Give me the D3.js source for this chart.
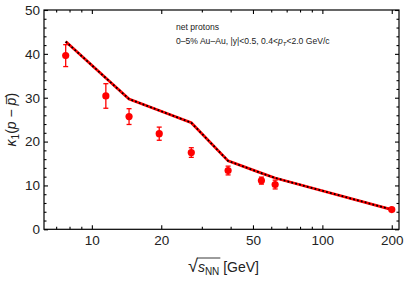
<!DOCTYPE html>
<html>
<head>
<meta charset="utf-8">
<script src="https://cdn.jsdelivr.net/npm/d3@7"></script>
<style>
  body { margin: 0; background: #fff; }
  svg { display: block; font-family: "Liberation Sans", Arial, sans-serif; }
</style>
</head>
<body>
<svg class="chart"></svg>
<script>
// data
var energies = [7.7, 11.5, 14.5, 19.6, 27, 39, 54.4, 62.4, 200];
var kappa = [39.6, 30.4, 25.7, 21.8, 17.5, 13.4, 11.1, 10.2, 4.5];
var kappaErr = [2.5, 2.8, 1.8, 1.5, 1.1, 1.0, 0.8, 1.0, 0.4];
var model = [42.8, 34.5, 29.7, 27.1, 24.3, 15.6, 12.8, 11.7, 4.5];
var xTicks = [10, 20, 50, 100, 200];
var xMinor = [7, 8, 9, 30, 40, 60, 70, 80, 90];
var yTicks = [0, 10, 20, 30, 40, 50];

(function() {
    var width = 407, height = 281;
    var margin = {left: 44, right: 8, top: 10, bottom: 52};

    var svg = d3.select('.chart')
        .attr('width', width)
        .attr('height', height);

    var x = d3.scaleLog().domain([6.2, 215]).range([margin.left, width - margin.right]);
    var y = d3.scaleLinear().domain([0, 50]).range([height - margin.bottom + 0.3, margin.top]);

    var yMinor = d3.range(0, 50.1, 2).filter(function(v) { return v % 10 !== 0; });

    var yBot = y(0), yTop = y(50), xLeft = x.range()[0], xRight = x.range()[1];

    // frame
    svg.append('rect')
        .attr('x', xLeft).attr('y', yTop)
        .attr('width', xRight - xLeft)
        .attr('height', yBot - yTop)
        .attr('fill', 'none').attr('stroke', '#000').attr('stroke-width', 1.2);

    function axis(gen, tr, vals, len, labels) {
        var g = svg.append('g').attr('transform', tr)
            .call(gen.tickValues(vals).tickSizeInner(len).tickSizeOuter(0)
                .tickFormat(labels ? d3.format('d') : ''));
        g.select('.domain').remove();
        g.selectAll('line').attr('stroke-width', 1.1);
        g.selectAll('text').attr('font-size', '13.5px').attr('fill', '#222')
            .attr('font-family', '"Liberation Sans", Arial, sans-serif');
        return g;
    }

    // inward ticks: negative size
    axis(d3.axisBottom(x), 'translate(0,' + yBot + ')', xTicks, -4, true)
        .selectAll('text').attr('dy', '0.71em').attr('y', 6);
    axis(d3.axisBottom(x), 'translate(0,' + yBot + ')', xMinor, -2.5, false);
    axis(d3.axisTop(x), 'translate(0,' + yTop + ')', xTicks, -4, false);
    axis(d3.axisTop(x), 'translate(0,' + yTop + ')', xMinor, -2.5, false);
    axis(d3.axisLeft(y), 'translate(' + xLeft + ',0)', yTicks, -4, true)
        .selectAll('text').attr('x', -4);
    axis(d3.axisLeft(y), 'translate(' + xLeft + ',0)', yMinor, -2.5, false);
    axis(d3.axisRight(y), 'translate(' + xRight + ',0)', yTicks, -4, false);
    axis(d3.axisRight(y), 'translate(' + xRight + ',0)', yMinor, -2.5, false);

    // model line: red with black dots
    var line = d3.line()
        .x(function(d, i) { return x(energies[i]); })
        .y(function(d) { return y(d); });

    svg.append('path').datum(model)
        .attr('d', line).attr('fill', 'none')
        .attr('stroke', '#f00').attr('stroke-width', 2.8);
    svg.append('path').datum(model)
        .attr('d', line).attr('fill', 'none')
        .attr('stroke', '#000').attr('stroke-width', 1.8)
        .attr('stroke-dasharray', '1.8,2.2');

    // data points with error bars
    var pts = svg.append('g').selectAll('g')
        .data(kappa)
        .enter().append('g');

    pts.append('line')
        .attr('x1', function(d, i) { return x(energies[i]); })
        .attr('x2', function(d, i) { return x(energies[i]); })
        .attr('y1', function(d, i) { return y(d - kappaErr[i]); })
        .attr('y2', function(d, i) { return y(d + kappaErr[i]); })
        .attr('stroke', '#f00').attr('stroke-width', 1.3);

    [-1, 1].forEach(function(s) {
        pts.append('line')
            .attr('x1', function(d, i) { return x(energies[i]) - 2.5; })
            .attr('x2', function(d, i) { return x(energies[i]) + 2.5; })
            .attr('y1', function(d, i) { return y(d + s * kappaErr[i]); })
            .attr('y2', function(d, i) { return y(d + s * kappaErr[i]); })
            .attr('stroke', '#f00').attr('stroke-width', 1.3);
    });

    pts.append('circle')
        .attr('cx', function(d, i) { return x(energies[i]); })
        .attr('cy', function(d) { return y(d); })
        .attr('r', 3.6)
        .attr('fill', '#f00');

    // annotation
    svg.append('text').attr('font-size', '8.6px').attr('fill', '#222')
        .attr('x', 176).attr('y', 30).text('net protons');
    var l2 = svg.append('text').attr('font-size', '8.6px').attr('fill', '#222')
        .attr('x', 176).attr('y', 44);
    l2.append('tspan').text('0\u20135% Au\u2013Au, |y|<0.5, 0.4<');
    l2.append('tspan').attr('font-style', 'italic').text('p');
    l2.append('tspan').attr('font-style', 'italic').attr('font-size', '6px').attr('dy', 2).text('T');
    l2.append('tspan').attr('dy', -2).text('<2.0 GeV/c');

    // axis titles
    var xl = svg.append('text')
        .attr('x', (xLeft + xRight) / 2 + 2).attr('y', 272)
        .attr('text-anchor', 'middle').attr('font-size', '14px').attr('fill', '#222');
    xl.append('tspan').attr('font-size', '18px').text('\u221A');
    xl.append('tspan').attr('font-style', 'italic').text('s');
    xl.append('tspan').attr('font-size', '10px').attr('dy', 3).text('NN');
    xl.append('tspan').attr('dy', -3).text(' [GeV]');
    // overline of the square root
    var sx = xl.node().getStartPositionOfChar(1).x;
    var ex = xl.node().getEndPositionOfChar(3).x;
    svg.append('line')
        .attr('x1', sx - 1).attr('x2', ex + 1)
        .attr('y1', 258).attr('y2', 258)
        .attr('stroke', '#222').attr('stroke-width', 0.9);

    var yl = svg.append('text')
        .attr('transform', 'translate(16,' + ((yTop + yBot) / 2) + ') rotate(-90)')
        .attr('text-anchor', 'middle').attr('font-size', '14px').attr('fill', '#222');
    yl.append('tspan').attr('font-style', 'italic').text('\u03BA');
    yl.append('tspan').attr('font-size', '10px').attr('dy', 3).text('1');
    yl.append('tspan').attr('dy', -3).text('(');
    yl.append('tspan').attr('font-style', 'italic').text('p');
    yl.append('tspan').text(' \u2212 ');
    yl.append('tspan').attr('font-style', 'italic').text('p\u0305');
    yl.append('tspan').text(')');
})();
</script>
</body>
</html>
